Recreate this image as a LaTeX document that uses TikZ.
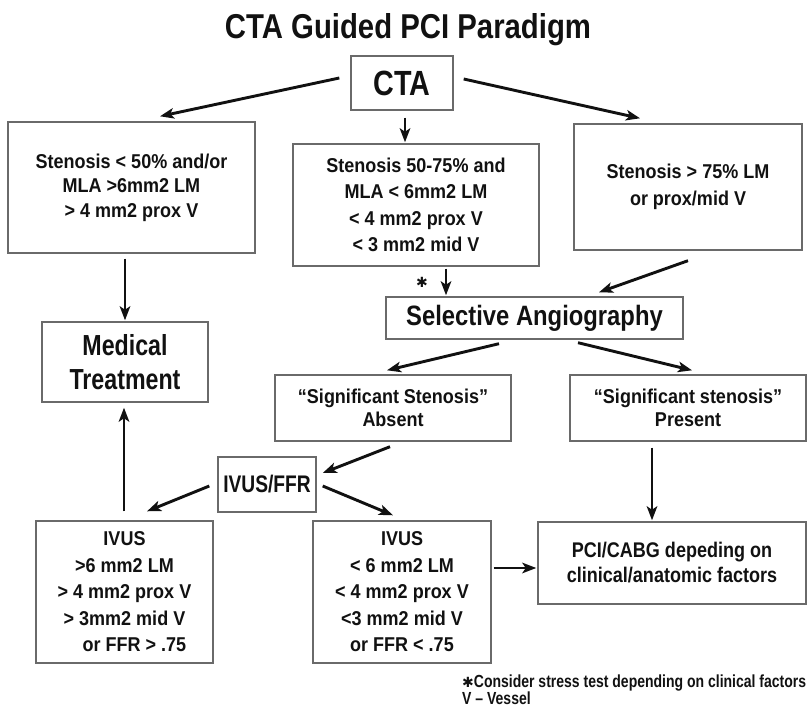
\documentclass[tikz,border=0pt]{standalone}
\usepackage{fontspec}
\setmainfont{Liberation Sans}[FakeStretch=0.9]
\newfontfamily\fEighty{Liberation Sans}[FakeStretch=0.80]
\newfontfamily\fEightyTwo{Liberation Sans}[FakeStretch=0.82]
\newfontfamily\fEightyFive{Liberation Sans}[FakeStretch=0.85]
\newfontfamily\symfont{DejaVu Sans}
\usetikzlibrary{arrows.meta,calc}
\definecolor{boxgray}{HTML}{6A6A6A}
\definecolor{ink}{HTML}{111111}
\begin{document}
\begin{tikzpicture}[x=1pt,y=-1pt,
  box/.style={draw=boxgray, line width=1.4pt, align=center, inner sep=0pt,
    text=ink, font=\bfseries\fontsize{20}{25}\selectfont},
  arr/.style={draw=ink, line width=2.9pt, -{Stealth[length=14pt,width=10.5pt,inset=3.5pt]}},
  note/.style={text=ink, font=\fEighty\bfseries\fontsize{17.5}{20}\selectfont, inner sep=0pt}]
\useasboundingbox (0,0) rectangle (810,708);

\node[text=ink, font=\fEightyFive\bfseries\fontsize{34.5}{40}\selectfont, anchor=base, inner sep=0pt] (title) at (408,39) {CTA Guided PCI Paradigm};

\node[box, minimum width=102pt, minimum height=54pt, font=\fEightyTwo\bfseries\fontsize{35}{40}\selectfont] (cta) at (402,83) {CTA};

\node[box, minimum width=247pt, minimum height=131pt, font=\bfseries\fontsize{20}{24.5}\selectfont] (boxA) at (131.5,187.5)
  {Stenosis < 50\% and/or\\MLA >6mm2 LM\\> 4 mm2 prox V};
\node[box, minimum width=246pt, minimum height=122pt, font=\bfseries\fontsize{20}{26.5}\selectfont] (boxB) at (416,205)
  {Stenosis 50-75\% and\\MLA < 6mm2 LM\\< 4 mm2 prox V\\< 3 mm2 mid V};
\node[box, minimum width=228pt, minimum height=126pt, font=\bfseries\fontsize{20}{27}\selectfont] (boxC) at (688,187)
  {Stenosis > 75\% LM\\or prox/mid V};

\node[box, minimum width=297pt, minimum height=42pt, font=\fEightyFive\bfseries\fontsize{28}{32}\selectfont] (sel) at (534.5,318) {Selective Angiography};

\node[box, minimum width=166pt, minimum height=80pt, font=\fEighty\bfseries\fontsize{29}{34}\selectfont] (med) at (125,362) {Medical\\Treatment};

\node[box, minimum width=236pt, minimum height=66pt, font=\bfseries\fontsize{20}{23.5}\selectfont] (absent) at (393,408)
  {“Significant Stenosis”\\Absent};
\node[box, minimum width=236pt, minimum height=66pt, font=\bfseries\fontsize{20}{23.5}\selectfont] (present) at (688,408)
  {“Significant stenosis”\\Present};

\node[box, minimum width=98pt, minimum height=55pt, font=\fEighty\bfseries\fontsize{24}{28}\selectfont] (ivusffr) at (267,484.5) {IVUS/FFR};

\node[box, minimum width=177pt, minimum height=142pt, font=\bfseries\fontsize{20}{26.5}\selectfont] (ivusL) at (124.5,592)
  {IVUS\\>6 mm2 LM\\> 4 mm2 prox V\\> 3mm2 mid V\\\hspace*{20pt}or FFR > .75};
\node[box, minimum width=178pt, minimum height=142pt, font=\bfseries\fontsize{20}{26.5}\selectfont] (ivusR) at (402,592)
  {IVUS\\< 6 mm2 LM\\< 4 mm2 prox V\\<3 mm2 mid V\\or FFR < .75};

\node[box, minimum width=268pt, minimum height=82pt, font=\fEightyFive\bfseries\fontsize{21.2}{25}\selectfont] (pci) at (672,563)
  {PCI/CABG depeding on\\clinical/anatomic factors};

\node[text=ink, font=\fontsize{14}{16}\selectfont, inner sep=0pt] (star) at (422,282) {\symfont ✱};

\node[note, anchor=base west] (fn1) at (462,687) {{\symfont\fontsize{14}{16}\selectfont ✱}Consider stress test depending on clinical factors};
\node[note, anchor=base west] (fn2) at (462,704) {V – Vessel};

% connectors
\draw[arr] ([shift={(-11,-5)}]cta.west) -- ([shift={(28.5,-5)}]boxA.north);
\draw[arr] ([shift={(10,-4)}]cta.east) -- ([shift={(-48,-5)}]boxC.north);
\draw[arr] ([shift={(3,7)}]cta.south) -- ([shift={(-11,-1)}]boxB.north);
\draw[arr] ([shift={(-6.5,5)}]boxA.south) -- ([shift={(0,-1)}]med.north);
\draw[arr] ([shift={(30,2)}]boxB.south) -- ([shift={(-88.5,-1)}]sel.north);
\draw[arr] ([shift={(0,10)}]boxC.south) -- ([shift={(64.5,-4)}]sel.north);
\draw[arr] ([shift={(-35.5,4)}]sel.south) -- ([shift={(-6,-4)}]absent.north);
\draw[arr] ([shift={(43.5,3)}]sel.south) -- ([shift={(4,-4)}]present.north);
\draw[arr] ([shift={(-3,5)}]absent.south) -- ([shift={(6,-11.5)}]ivusffr.east);
\draw[arr] ([shift={(-36,6)}]present.south) -- ([shift={(-20,-1)}]pci.north);
\draw[arr] ([shift={(-8,1.5)}]ivusffr.west) -- ([shift={(22.5,-9)}]ivusL.north);
\draw[arr] ([shift={(6,1.5)}]ivusffr.east) -- ([shift={(-9,-5)}]ivusR.north);
\draw[arr] ([shift={(-0.5,-9)}]ivusL.north) -- ([shift={(-1,5)}]med.south);
\draw[arr] ([shift={(2,-24)}]ivusR.east) -- ([shift={(-1,5)}]pci.west);
\end{tikzpicture}
\end{document}
